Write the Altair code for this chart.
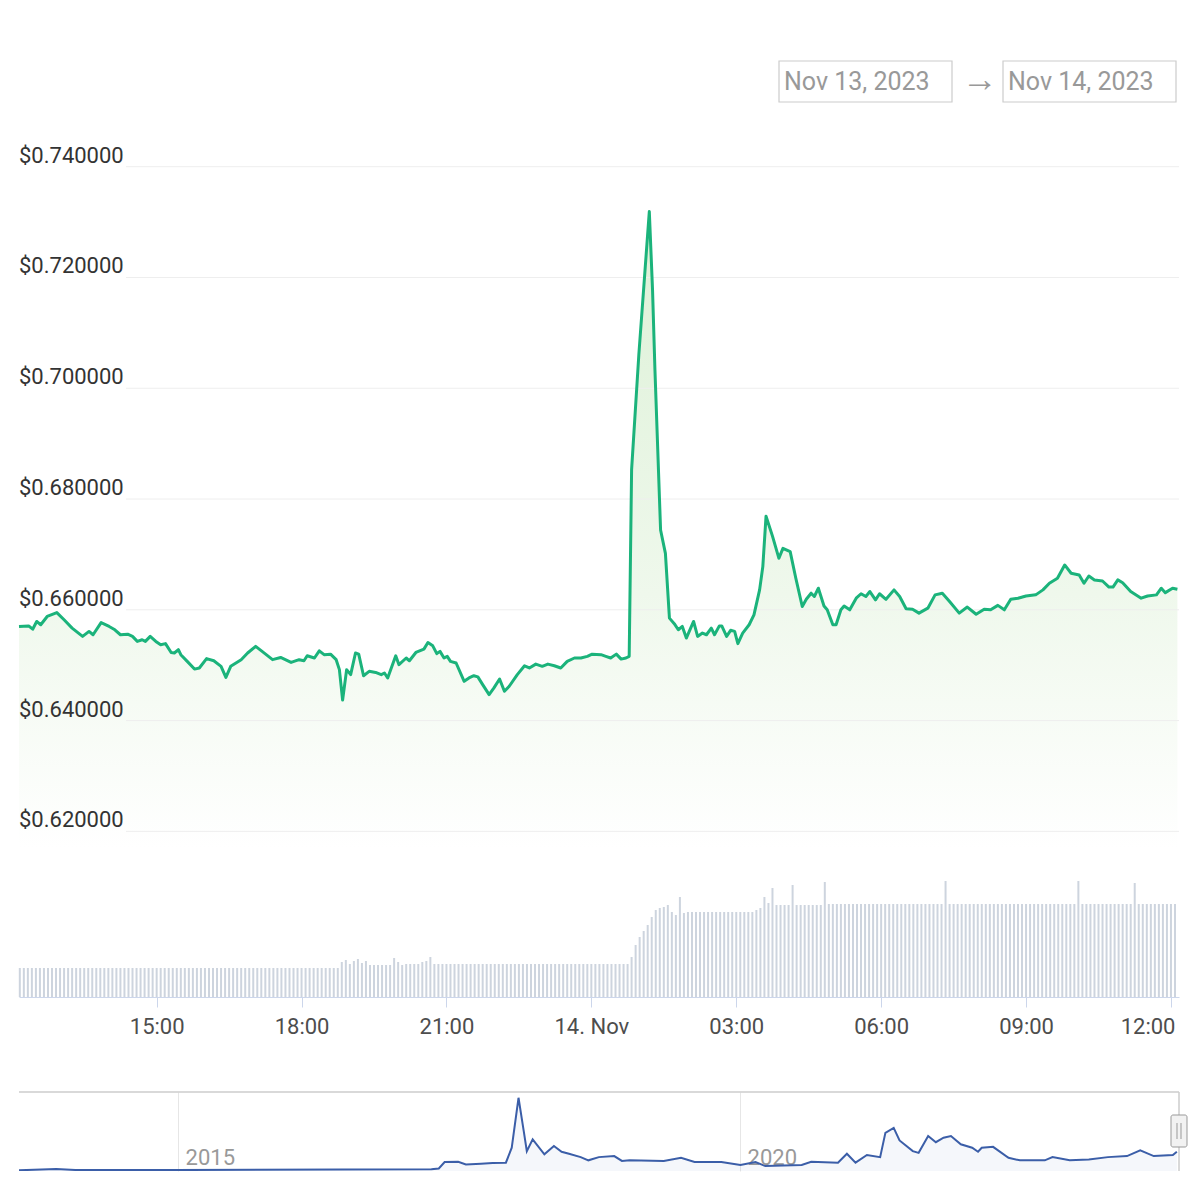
import altair as alt
import pandas as pd

# ---------------- data ----------------
# price line: minutes after 2023-11-13 12:09 UTC, price in USD
price_minutes = [
    0, 12, 17, 22, 27, 35, 47, 56, 66, 79,
    87, 92, 102, 112, 118, 126, 135, 141, 147, 153,
    157, 163, 170, 176, 182, 189, 193, 198, 201, 209,
    218, 224, 233, 242, 251, 257, 263, 276, 284, 294,
    302, 315, 325, 338, 348, 354, 358, 367, 373, 379,
    387, 394, 398, 402, 407, 412, 418, 422, 428, 435,
    443, 450, 454, 458, 468, 472, 481, 485, 493, 503,
    508, 514, 519, 523, 528, 532, 536, 543, 553, 559,
    565, 570, 576, 584, 590, 597, 603, 609, 619, 628,
    634, 642, 650, 657, 665, 673, 681, 690, 698, 706,
    712, 723, 729, 735, 742, 748, 754, 758, 761, 770,
    783, 787, 790, 797, 803, 808, 814, 819, 824, 829,
    838, 843, 849, 854, 860, 864, 870, 873, 879, 884,
    889, 893, 899, 907, 913, 920, 924, 928, 936, 944,
    949, 958, 965, 973, 978, 984, 988, 993, 1000, 1004,
    1011, 1015, 1021, 1025, 1032, 1040, 1046, 1052, 1057, 1064,
    1069, 1077, 1087, 1094, 1102, 1110, 1118, 1129, 1138, 1147,
    1156, 1168, 1178, 1189, 1199, 1207, 1216, 1224, 1232, 1241,
    1251, 1263, 1272, 1280, 1290, 1299, 1307, 1317, 1323, 1329,
    1336, 1346, 1354, 1359, 1365, 1371, 1381, 1394, 1402, 1413,
    1419, 1424, 1433, 1439,
]
price_values = [
    0.6570, 0.6571, 0.6565, 0.6579, 0.6573, 0.6588, 0.6595, 0.6582, 0.6567, 0.6552,
    0.6561, 0.6555, 0.6577, 0.6570, 0.6565, 0.6555, 0.6556, 0.6552, 0.6543, 0.6546,
    0.6543, 0.6552, 0.6543, 0.6537, 0.6539, 0.6523, 0.6522, 0.6528, 0.6519, 0.6507,
    0.6493, 0.6495, 0.6512, 0.6508, 0.6498, 0.6478, 0.6498, 0.6510, 0.6522, 0.6534,
    0.6525, 0.6510, 0.6514, 0.6505, 0.6510, 0.6508, 0.6517, 0.6513, 0.6526, 0.6519,
    0.6520, 0.6510, 0.6492, 0.6437, 0.6492, 0.6483, 0.6522, 0.6520, 0.6481, 0.6489,
    0.6487, 0.6483, 0.6486, 0.6477, 0.6517, 0.6501, 0.6513, 0.6508, 0.6523, 0.6529,
    0.6541, 0.6535, 0.6521, 0.6525, 0.6513, 0.6516, 0.6507, 0.6504, 0.6471, 0.6477,
    0.6481, 0.6479, 0.6465, 0.6447, 0.6459, 0.6475, 0.6453, 0.6462, 0.6483, 0.6499,
    0.6495, 0.6502, 0.6498, 0.6502, 0.6499, 0.6495, 0.6507, 0.6513, 0.6513, 0.6516,
    0.6520, 0.6519, 0.6516, 0.6513, 0.6520, 0.6511, 0.6513, 0.6516, 0.6853, 0.7061,
    0.7319, 0.7178, 0.7033, 0.6744, 0.6702, 0.6585, 0.6575, 0.6564, 0.6570, 0.6549,
    0.6579, 0.6552, 0.6558, 0.6555, 0.6567, 0.6555, 0.6571, 0.6571, 0.6552, 0.6563,
    0.6561, 0.6539, 0.6558, 0.6573, 0.6591, 0.6636, 0.6678, 0.6769, 0.6733, 0.6693,
    0.6711, 0.6705, 0.6657, 0.6606, 0.6619, 0.6630, 0.6624, 0.6639, 0.6607, 0.6600,
    0.6573, 0.6573, 0.6600, 0.6607, 0.6600, 0.6621, 0.6629, 0.6624, 0.6633, 0.6618,
    0.6629, 0.6619, 0.6636, 0.6624, 0.6602, 0.6601, 0.6594, 0.6603, 0.6627, 0.6630,
    0.6615, 0.6594, 0.6605, 0.6592, 0.6601, 0.6600, 0.6608, 0.6600, 0.6619, 0.6621,
    0.6625, 0.6627, 0.6636, 0.6648, 0.6657, 0.6681, 0.6666, 0.6663, 0.6648, 0.6661,
    0.6654, 0.6652, 0.6641, 0.6641, 0.6654, 0.6649, 0.6633, 0.6621, 0.6625, 0.6627,
    0.6639, 0.6631, 0.6639, 0.6637,
]

# volume bars, one every 5 minutes from 12:10 (relative units)
volume_values = (
    [29] * 80
    + [35, 37, 33, 36, 38, 34, 36, 32, 32, 32, 32, 32, 32, 39, 35, 32, 33, 33, 33, 33, 35, 36, 40]
    + [33] * 49
    + [40, 52, 60, 66, 72, 80, 87, 89, 90, 92, 85, 82, 100, 84]
    + [85] * 17
    + [87, 89, 100, 94, 109]
    + [92] * 4 + [112] + [92] * 7 + [115]
    + [93] * 29 + [116] + [93] * 32 + [116] + [93] * 13 + [114] + [93] * 10
)

# navigator (full history)
nav_dates = [
    "2013-08-02", "2013-12-01", "2014-02-01", "2014-12-21",
    "2017-04-03", "2017-04-27", "2017-05-16", "2017-06-29", "2017-07-24", "2017-09-11",
    "2017-10-19", "2017-12-01", "2017-12-20",
    "2018-01-11", "2018-01-28", "2018-02-07", "2018-02-26", "2018-04-05", "2018-05-06",
    "2018-05-31", "2018-06-24", "2018-08-01", "2018-08-26", "2018-09-29", "2018-11-18", "2018-12-13",
    "2019-01-07", "2019-04-28", "2019-06-23", "2019-08-06", "2019-11-01",
    "2020-01-02", "2020-02-20", "2020-03-23", "2020-07-19", "2020-08-19", "2020-11-14", "2020-12-13",
    "2021-01-10", "2021-02-16", "2021-03-31", "2021-04-17", "2021-05-14", "2021-06-02",
    "2021-07-15", "2021-08-03", "2021-09-03", "2021-09-28", "2021-10-23", "2021-11-16", "2021-12-18",
    "2022-01-24", "2022-02-12", "2022-02-24", "2022-04-02", "2022-05-22", "2022-06-28",
    "2022-09-17", "2022-10-12", "2022-12-07",
    "2023-02-07", "2023-04-10", "2023-06-11", "2023-07-24", "2023-09-06", "2023-11-07", "2023-11-20",
]
nav_values = [
    0.005, 0.06, 0.02, 0.015,
    0.05, 0.09, 0.39, 0.40, 0.28, 0.31,
    0.34, 0.36, 1.06,
    3.40, 1.84, 0.90, 1.45, 0.75, 1.14,
    0.87, 0.78, 0.62, 0.47, 0.62, 0.67, 0.44,
    0.47, 0.44, 0.59, 0.39, 0.39,
    0.25, 0.39, 0.20, 0.25, 0.40, 0.36, 0.78,
    0.36, 0.72, 0.62, 1.76, 1.99, 1.40,
    0.90, 0.82, 1.61, 1.32, 1.53, 1.61, 1.22,
    1.06, 0.87, 1.06, 1.10, 0.59, 0.47,
    0.47, 0.62, 0.47,
    0.51, 0.62, 0.67, 0.94, 0.67, 0.72, 0.87,
]

y_ticks = [0.62, 0.64, 0.66, 0.68, 0.70, 0.72, 0.74]
date_from = "Nov 13, 2023"
date_to = "Nov 14, 2023"

# ---------------- tables ----------------
base = pd.Timestamp("2023-11-13 12:09")
fmt = "%Y-%m-%dT%H:%M:%SZ"
price_df = pd.DataFrame({
    "t": [(base + pd.Timedelta(minutes=m)).strftime(fmt) for m in price_minutes],
    "price": price_values,
})
vol_df = pd.DataFrame({
    "t": [(base + pd.Timedelta(minutes=1 + 5 * i)).strftime(fmt) for i in range(len(volume_values))],
    "vol": volume_values,
})
nav_df = pd.DataFrame({"d": nav_dates, "v": nav_values})
ytick_df = pd.DataFrame({"p": y_ticks})
one = pd.DataFrame({"k": [0]})

W = 1160
HEADER_H = 131
PRICE_H = 709
VOL_H = 149
NAV_H = 79
FONT = "Roboto"

x_domain = [
    alt.DateTime(year=2023, month=11, date=13, hours=12, minutes=9, utc=True),
    alt.DateTime(year=2023, month=11, date=14, hours=12, minutes=10, utc=True),
]
x_ticks = [alt.DateTime(year=2023, month=11, date=13, hours=h, utc=True) for h in (15, 18, 21)] + \
          [alt.DateTime(year=2023, month=11, date=14, hours=h, utc=True) for h in (0, 3, 6, 9, 12)]
x_scale = alt.Scale(type="utc", domain=x_domain, padding=0)

# ---------------- header (date range boxes) ----------------
def box(x0, x1):
    return alt.Chart(one).mark_rect(fill="white", stroke="#cccccc", strokeWidth=1.2).encode(
        x=alt.value(x0), x2=alt.value(x1), y=alt.value(53), y2=alt.value(94))

def label(txt, x0, y0=74, color="#999999", size=25):
    return alt.Chart(one).mark_text(align="left", baseline="middle", font=FONT,
                                    fontSize=size, color=color).encode(
        x=alt.value(x0), y=alt.value(y0), text=alt.value(txt))

header = alt.layer(
    box(760, 933), box(984, 1157),
    label(date_from, 765), label(date_to, 989),
    label("\u2192", 943, y0=72, size=36),
).properties(width=W, height=HEADER_H)

# ---------------- price pane ----------------
y_scale = alt.Scale(domain=[0.617, 0.745], nice=False, zero=False)
y_axis = None
gradient = alt.Gradient(
    gradient="linear",
    stops=[alt.GradientStop(color="#dcf1d6", offset=0),
           alt.GradientStop(color="#eff8ec", offset=0.6),
           alt.GradientStop(color="#ffffff", offset=1)],
    x1=1, x2=1, y1=0, y2=1,
)
pbase = alt.Chart(price_df).encode(
    x=alt.X("t:T", scale=x_scale, axis=None),
)
area = pbase.mark_area(interpolate="linear", color=gradient, clip=True).encode(
    y=alt.Y("price:Q", scale=y_scale, stack=None, axis=y_axis),
    y2=alt.value(PRICE_H),
)
# horizontal grid lines (they start right of the value labels, as in the reference)
grid = alt.Chart(ytick_df).mark_rule(color="#eeeeee", strokeWidth=1).encode(
    y=alt.Y("p:Q", scale=y_scale, axis=y_axis),
    x=alt.value(107), x2=alt.value(W),
)
line = pbase.mark_line(interpolate="linear", color="#1bb37b", strokeWidth=3,
                       strokeJoin="round", strokeCap="butt").encode(
    y=alt.Y("price:Q", scale=y_scale, axis=y_axis),
)
ylabels = alt.Chart(ytick_df).mark_text(align="left", baseline="bottom", font=FONT,
                                        fontSize=22, color="#333333", dy=1).encode(
    y=alt.Y("p:Q", scale=y_scale, axis=y_axis),
    x=alt.value(0),
    text=alt.Text("p:Q", format="$.6f"),
)
price_chart = alt.layer(area, grid, line, ylabels).properties(width=W, height=PRICE_H)

# ---------------- volume pane ----------------
last_tick = "utchours(datum.value) == 12"
vol_chart = alt.Chart(vol_df).mark_bar(width=2, color="#cdd4de").encode(
    x=alt.X("t:T", scale=x_scale, axis=alt.Axis(
        values=x_ticks, title=None, grid=False,
        labelExpr="utchours(datum.value) == 0 ? utcFormat(datum.value, '%d. %b') : utcFormat(datum.value, '%H:%M')",
        labelAlign={"condition": {"test": last_tick, "value": "right"}, "value": "center"},
        labelOffset={"condition": {"test": last_tick, "value": 4}, "value": 0},
        tickColor="#ccd6eb", tickSize=10, domainColor="#ccd6eb",
        labelFont=FONT, labelFontSize=22, labelColor="#4d4d4d", labelPadding=9,
        labelFlush=False)),
    y=alt.Y("vol:Q", scale=alt.Scale(domain=[0, VOL_H], nice=False), stack=None, axis=None),
).properties(width=W, height=VOL_H)

# ---------------- navigator ----------------
nav_scale_x = alt.Scale(type="utc", domain=[
    alt.DateTime(year=2013, month=8, date=2, utc=True),
    alt.DateTime(year=2023, month=11, date=27, utc=True)], padding=0)
nav_scale_y = alt.Scale(domain=[-0.03, 3.67], nice=False, zero=False)
nbase = alt.Chart(nav_df).encode(
    x=alt.X("d:T", scale=nav_scale_x, axis=alt.Axis(
        values=[alt.DateTime(year=2015, month=1, date=1, utc=True),
                alt.DateTime(year=2020, month=1, date=1, utc=True)],
        format="%Y", formatType="utc", orient="bottom", title=None,
        labelAlign="left", labelBaseline="alphabetic", labelPadding=-7, labelOffset=7,
        ticks=False, tickSize=0, domain=False, grid=True, gridColor="#e6e6e6",
        labelFont=FONT, labelFontSize=22, labelColor="#999999", labelFlush=False)),
)
nav_area = nbase.mark_area(color="#335cad", opacity=0.05, clip=True).encode(
    y=alt.Y("v:Q", scale=nav_scale_y, stack=None, axis=None),
    y2=alt.value(NAV_H))
nav_line = nbase.mark_line(color="#3b5ea8", strokeWidth=2, clip=True).encode(
    y=alt.Y("v:Q", scale=nav_scale_y, axis=None))
nav_top = alt.Chart(one).mark_rule(color="#cccccc", strokeWidth=1.5).encode(
    x=alt.value(0), x2=alt.value(W), y=alt.value(0))
nav_right = alt.Chart(one).mark_rule(color="#cccccc", strokeWidth=1.5).encode(
    x=alt.value(W), y=alt.value(0), y2=alt.value(NAV_H))
handle = alt.Chart(one).mark_rect(fill="#f2f2f2", stroke="#999999", strokeWidth=1,
                                  cornerRadius=2).encode(
    x=alt.value(W - 8), x2=alt.value(W + 8), y=alt.value(23), y2=alt.value(55))
grip1 = alt.Chart(one).mark_rule(color="#999999").encode(
    x=alt.value(W - 2), y=alt.value(31), y2=alt.value(47))
grip2 = alt.Chart(one).mark_rule(color="#999999").encode(
    x=alt.value(W + 2), y=alt.value(31), y2=alt.value(47))
nav_chart = alt.layer(nav_area, nav_line, nav_top, nav_right, handle, grip1, grip2).properties(
    width=W, height=NAV_H)

inner = alt.vconcat(header, price_chart, vol_chart, spacing=0).resolve_scale(
    x="independent", y="independent")
chart = alt.vconcat(inner, nav_chart, spacing=54).resolve_scale(
    x="independent", y="independent"
).properties(
    padding={"left": 9, "top": 0, "right": 0, "bottom": 0},
    background="white",
).configure(font=FONT).configure_view(strokeWidth=0, stroke=None)

chart.save("out.html", embed_options={"renderer": "svg", "actions": False})
